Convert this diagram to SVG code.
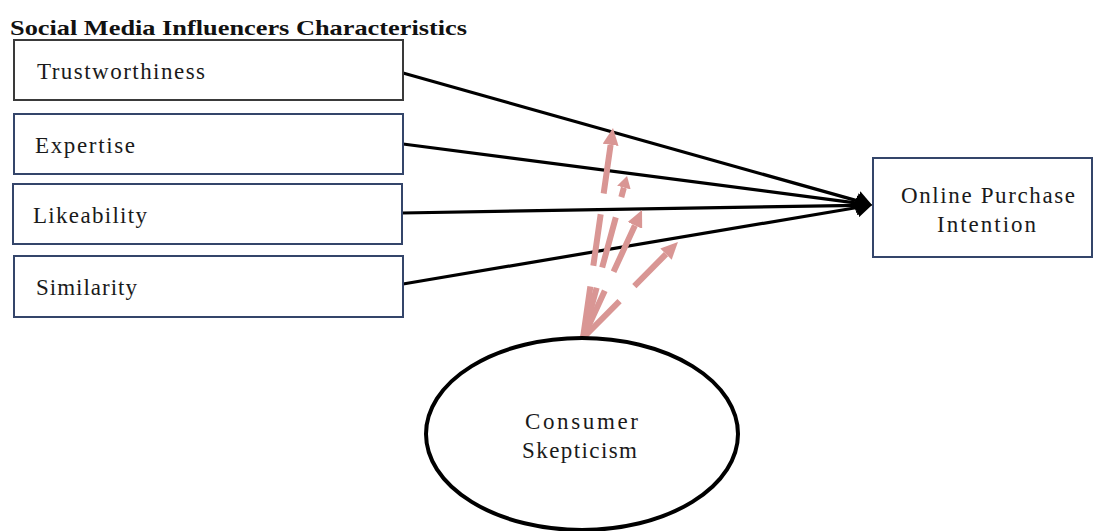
<svg xmlns="http://www.w3.org/2000/svg" width="1093" height="531" viewBox="0 0 1093 531">
<style>
.box{fill:#fff;stroke:#34456a;stroke-width:2}
.t{font-family:"Liberation Serif","Times New Roman",serif;font-size:23px;fill:#1a1a1a}
.title{font-family:"Liberation Serif","Times New Roman",serif;font-size:22px;font-weight:bold;fill:#111}
.blk{stroke:#000;stroke-width:3.2;fill:none}
.pk{stroke:#d99694;stroke-width:6;fill:none;stroke-dasharray:52 21}
</style>
<defs>
<marker id="ah" viewBox="0 0 15 20" refX="0" refY="10" markerWidth="15" markerHeight="20" markerUnits="userSpaceOnUse" orient="auto">
<path d="M0,0 L15,10 L0,20 z" fill="#000"/>
</marker>
<marker id="pah" viewBox="0 0 17 16" refX="0" refY="8" markerWidth="17" markerHeight="16" markerUnits="userSpaceOnUse" orient="auto">
<path d="M0,0 L17,8 L0,16 z" fill="#d99694"/>
</marker>
<marker id="pahs" viewBox="0 0 12 14" refX="0" refY="7" markerWidth="12" markerHeight="14" markerUnits="userSpaceOnUse" orient="auto">
<path d="M0,0 L12,7 L0,14 z" fill="#d99694"/>
</marker>
</defs>
<text class="title" x="10" y="35" textLength="457" lengthAdjust="spacingAndGlyphs">Social Media Influencers Characteristics</text>
<g id="connectors">
<line class="blk" x1="403" y1="73" x2="857.6" y2="200.9" marker-end="url(#ah)"/>
<line class="blk" x1="403" y1="144" x2="857.1" y2="203.1" marker-end="url(#ah)"/>
<line class="blk" x1="402" y1="213" x2="857" y2="205.3" marker-end="url(#ah)"/>
<line class="blk" x1="403" y1="284" x2="857.2" y2="207.5" marker-end="url(#ah)"/>
<line class="pk" x1="583" y1="338" x2="610.6" y2="144.8" marker-end="url(#pah)"/>
<line class="pk" x1="583" y1="338" x2="623.9" y2="187.6" marker-end="url(#pahs)"/>
<line class="pk" x1="583" y1="338" x2="634.9" y2="225.4" marker-end="url(#pah)"/>
<line class="pk" x1="583" y1="338" x2="666" y2="254.1" marker-end="url(#pah)"/>
</g>
<g id="trustworthiness">
<rect class="box" x="14" y="40" width="389" height="60" style="stroke:#3a3a3a"/>
<text class="t" x="37" y="79" textLength="168" lengthAdjust="spacing">Trustworthiness</text>
</g>
<g id="expertise">
<rect class="box" x="14" y="114" width="389" height="60"/>
<text class="t" x="35" y="153" textLength="100" lengthAdjust="spacing">Expertise</text>
</g>
<g id="likeability">
<rect class="box" x="13" y="184" width="389" height="60"/>
<text class="t" x="33" y="223" textLength="114" lengthAdjust="spacing">Likeability</text>
</g>
<g id="similarity">
<rect class="box" x="14" y="256" width="389" height="61"/>
<text class="t" x="36" y="295" textLength="101" lengthAdjust="spacing">Similarity</text>
</g>
<g id="online-purchase-intention">
<rect class="box" x="873" y="158" width="219" height="99"/>
<text class="t" x="901" y="203" textLength="174" lengthAdjust="spacing">Online Purchase</text>
<text class="t" x="937" y="232" textLength="99" lengthAdjust="spacing">Intention</text>
</g>
<g id="consumer-skepticism">
<ellipse cx="582" cy="434" rx="156" ry="96" fill="#fff" stroke="#000" stroke-width="4"/>
<text class="t" x="525" y="429" textLength="113" lengthAdjust="spacing">Consumer</text>
<text class="t" x="522" y="458" textLength="115" lengthAdjust="spacing">Skepticism</text>
</g>
</svg>
